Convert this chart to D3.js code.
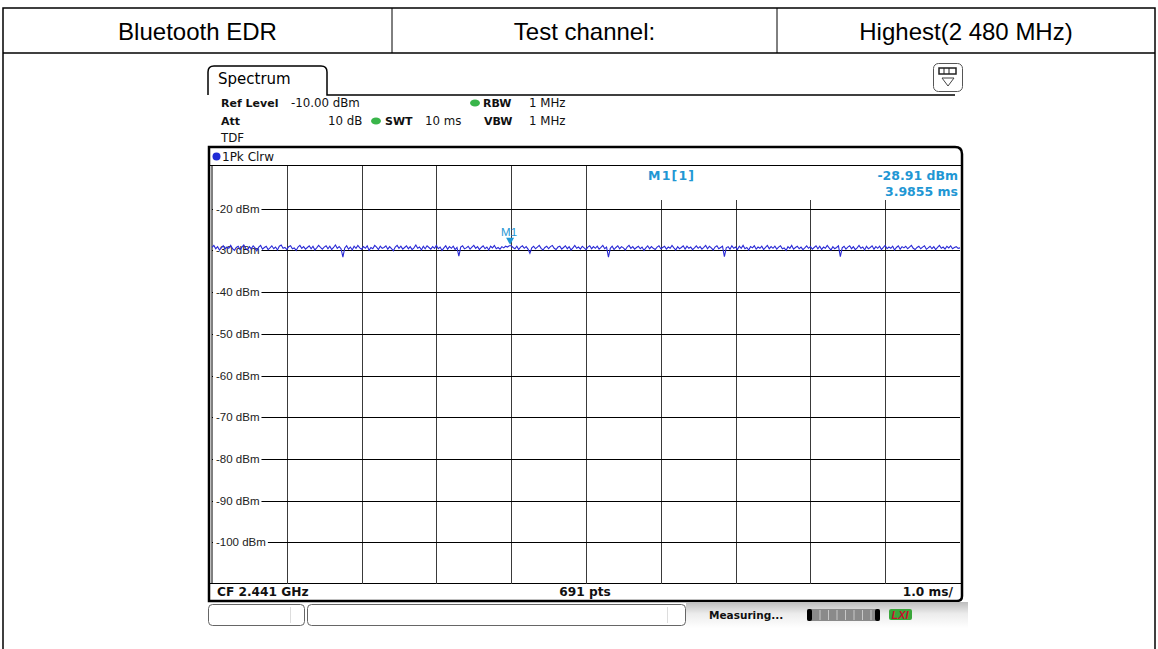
<!DOCTYPE html>
<html>
<head>
<meta charset="utf-8">
<script src="https://cdn.jsdelivr.net/npm/d3@7"></script>
<style>
  html, body { margin: 0; padding: 0; background: #fff; }
  svg { display: block; }
</style>
</head>
<body>
<svg id="chart" width="1158" height="649"></svg>
<script>
// Header row of the report table
const headerCells = ["Bluetooth EDR", "Test channel:", "Highest(2 480 MHz)"];

// Instrument settings
const refLevel = "-10.00 dBm";
const attenuation = "10 dB";
const sweepTime = "10 ms";
const rbw = "1 MHz";
const vbw = "1 MHz";
const traceLabel = "1Pk Clrw";
const centerFreq = "CF 2.441 GHz";
const pointsLabel = "691 pts";
const timePerDiv = "1.0 ms/";

// Axis ticks
const yTicks = [-20, -30, -40, -50, -60, -70, -80, -90, -100];
const xDivisions = [0, 1, 2, 3, 4, 5, 6, 7, 8, 9, 10];

// Marker M1
const markerTime = 3.9855;   // ms
const markerLevel = -28.91;  // dBm

// Trace level (dBm), one sample every 0.025 ms from 0 to 10 ms
const traceLevels = [
  -29.3,-28.8,-29.6,-29.1,-29.9,-29.4,-28.9,-29.7,-29.2,-29.5,-28.8,-29.6,-30.0,-29.3,-29.0,-29.8,-29.2,-28.7,-29.5,-29.9,
  -29.1,-29.6,-28.9,-29.4,-30.1,-29.2,-28.8,-29.7,-29.3,-29.0,-29.8,-29.4,-28.9,-29.6,-29.2,-29.9,-29.0,-28.7,-29.5,-29.3,
  -29.8,-29.1,-28.9,-29.6,-29.4,-30.0,-29.2,-28.8,-29.5,-29.1,-29.7,-29.3,-28.9,-29.6,-29.0,-29.9,-29.4,-28.8,-29.3,-29.7,
  -29.2,-28.9,-29.6,-29.0,-29.8,-29.3,-28.7,-29.5,-29.1,-29.6,-31.6,-29.4,-28.9,-29.7,-29.2,-29.9,-29.0,-29.5,-28.8,-29.4,
  -29.7,-29.1,-29.5,-28.9,-30.0,-29.3,-29.6,-28.8,-29.2,-29.8,-29.0,-29.5,-29.3,-28.9,-29.7,-29.1,-29.6,-30.1,-29.2,-28.8,
  -29.5,-29.0,-29.7,-29.3,-28.9,-29.6,-29.1,-29.8,-29.4,-28.7,-29.5,-29.2,-29.9,-29.0,-29.6,-28.9,-29.3,-29.7,-29.1,-29.5,
  -28.8,-29.6,-29.2,-30.0,-29.4,-28.9,-29.7,-29.1,-29.5,-29.0,-29.8,-29.3,-31.4,-29.2,-28.9,-29.6,-29.4,-29.0,-29.7,-29.2,
  -28.8,-29.5,-29.1,-29.8,-29.3,-28.9,-29.6,-29.2,-29.9,-29.0,-29.4,-28.8,-29.6,-29.3,-29.7,-29.1,-29.4,-29.0,-29.2,-28.9,
  -28.9,-29.3,-29.6,-29.0,-29.8,-29.2,-28.9,-29.5,-29.1,-29.7,-30.7,-29.4,-29.0,-29.6,-29.2,-28.8,-29.5,-29.9,-29.3,-29.0,
  -29.6,-29.1,-28.8,-29.5,-29.8,-29.2,-29.0,-29.7,-29.3,-28.9,-29.6,-29.1,-29.9,-29.4,-28.8,-29.5,-29.2,-29.7,-29.0,-29.4,
  -29.8,-29.2,-28.9,-29.6,-29.1,-29.5,-29.0,-29.7,-29.3,-28.8,-29.6,-29.2,-31.6,-29.5,-29.0,-29.8,-29.3,-28.9,-29.6,-29.1,
  -29.4,-29.9,-29.2,-28.8,-29.5,-29.1,-29.7,-29.3,-29.0,-29.6,-29.2,-30.0,-29.4,-28.9,-29.6,-29.1,-29.5,-29.8,-29.2,-28.9,
  -29.6,-29.3,-29.0,-29.7,-29.2,-29.5,-28.8,-29.4,-29.9,-29.1,-29.6,-29.3,-28.9,-29.7,-29.0,-29.5,-29.2,-29.8,-29.4,-28.9,
  -29.5,-29.1,-29.7,-29.3,-28.8,-29.6,-29.0,-29.4,-29.9,-29.2,-28.9,-29.6,-29.3,-29.0,-31.5,-29.4,-29.1,-29.7,-28.9,-29.5,
  -29.2,-29.8,-29.0,-29.5,-28.8,-29.6,-29.3,-29.9,-29.1,-29.4,-28.9,-29.7,-29.2,-29.5,-29.0,-29.8,-29.3,-28.8,-29.6,-29.1,
  -29.5,-29.0,-29.7,-29.2,-28.9,-29.6,-29.4,-30.0,-29.1,-29.5,-28.8,-29.7,-29.3,-29.0,-29.6,-29.2,-29.8,-29.4,-28.9,-29.5,
  -29.1,-29.7,-29.3,-28.9,-29.6,-29.0,-29.8,-29.2,-29.5,-28.8,-29.4,-29.9,-29.1,-29.6,-29.3,-28.9,-31.5,-29.4,-29.0,-29.7,
  -29.2,-28.9,-29.6,-29.1,-29.8,-29.4,-28.8,-29.5,-29.2,-29.9,-29.0,-29.6,-29.3,-28.9,-29.7,-29.1,-29.5,-29.0,-29.8,-29.3,
  -28.8,-29.6,-29.2,-29.5,-29.0,-29.9,-29.3,-28.9,-29.7,-29.1,-29.4,-29.0,-29.6,-29.2,-28.8,-29.5,-29.8,-29.3,-29.0,-29.6,
  -29.2,-28.9,-29.7,-29.4,-29.0,-29.6,-29.1,-29.8,-29.3,-28.8,-29.5,-29.2,-29.7,-29.0,-29.4,-28.9,-29.6,-29.3,-29.1,-29.5,
  -29.4
];
const sampleStep = 0.025; // ms

const svg = d3.select("#chart");
const uiFont = "'DejaVu Sans', Verdana, sans-serif";
const tableFont = "'Liberation Sans', Arial, sans-serif";

// ---------- report table ----------
const tableLeft = 3, tableRight = 1155, tableTop = 8, headerBottom = 53;
const colEdges = [tableLeft, 392, 777, tableRight];
svg.append("rect")
  .attr("x", tableLeft).attr("y", tableTop)
  .attr("width", tableRight - tableLeft).attr("height", 660)
  .attr("fill", "none").attr("stroke", "#000").attr("stroke-width", 1.5);
svg.append("line")
  .attr("x1", tableLeft).attr("x2", tableRight)
  .attr("y1", headerBottom).attr("y2", headerBottom)
  .attr("stroke", "#000").attr("stroke-width", 1.5);
[392, 777].forEach(x => svg.append("line")
  .attr("x1", x).attr("x2", x).attr("y1", tableTop).attr("y2", headerBottom)
  .attr("stroke", "#000").attr("stroke-width", 1));
svg.selectAll("text.hdr").data(headerCells).join("text")
  .attr("class", "hdr")
  .attr("x", (d, i) => (colEdges[i] + colEdges[i + 1]) / 2)
  .attr("y", 40)
  .attr("text-anchor", "middle")
  .attr("font-family", tableFont)
  .attr("font-size", 24)
  .attr("fill", "#000")
  .text(d => d);

// ---------- instrument window ----------
const scr = svg.append("g");

// Tab "Spectrum"
scr.append("path")
  .attr("d", "M208,95 L208,72 Q208,66 214,66 L321,66 Q327,66 327,72 L327,95 L955,95")
  .attr("fill", "none").attr("stroke", "#000").attr("stroke-width", 1.5);
scr.append("text").attr("x", 218).attr("y", 84)
  .attr("font-family", uiFont).attr("font-size", 15).text("Spectrum");

// Window-list icon
scr.append("rect").attr("x", 933.5).attr("y", 63.5).attr("width", 29).attr("height", 28).attr("rx", 5)
  .attr("fill", "#fff").attr("stroke", "#555").attr("stroke-width", 1);
scr.append("rect").attr("x", 939).attr("y", 68).attr("width", 17).attr("height", 6)
  .attr("fill", "#fff").attr("stroke", "#222").attr("stroke-width", 1.5);
[944, 949].forEach(x => scr.append("line").attr("x1", x).attr("x2", x).attr("y1", 68).attr("y2", 74)
  .attr("stroke", "#222").attr("stroke-width", 1));
scr.append("path").attr("d", "M942,78 L954,78 L948,86 Z")
  .attr("fill", "#fff").attr("stroke", "#444").attr("stroke-width", 1);

// Settings lines
function settingText(x, y, txt, bold) {
  scr.append("text").attr("x", x).attr("y", y)
    .attr("font-family", uiFont).attr("font-size", bold ? 11 : 11.8)
    .attr("font-weight", bold ? "bold" : "normal")
    .attr("fill", "#111").text(txt);
}
function greenDot(cx, cy) {
  scr.append("ellipse").attr("cx", cx).attr("cy", cy).attr("rx", 5).attr("ry", 3.5)
    .attr("fill", "#39b54a");
}
settingText(221, 107, "Ref Level", true);
settingText(291, 107, refLevel, false);
greenDot(475, 103);
settingText(483, 107, "RBW", true);
settingText(529, 107, rbw, false);
settingText(221, 125, "Att", true);
settingText(328, 125, attenuation, false);
greenDot(376, 121);
settingText(385, 125, "SWT", true);
settingText(425, 125, sweepTime, false);
settingText(484, 125, "VBW", true);
settingText(529, 125, vbw, false);
settingText(221, 142, "TDF", false);

// Diagram frame
const plot = { left: 212, right: 960, top: 167, bottom: 584 };
const x = d3.scaleLinear().domain([0, 10]).range([plot.left, plot.right]);
const y = d3.scaleLinear().domain([-10, -110]).range([plot.top, plot.bottom]);

scr.append("path")
  .attr("d", `M209,601 L209,147 L955,147 Q962,147 962,154 L962,596 Q962,601 957,601 Z`)
  .attr("fill", "#fff").attr("stroke", "#000").attr("stroke-width", 2.5);
scr.append("line").attr("x1", 212).attr("x2", 212).attr("y1", 165).attr("y2", 584)
  .attr("stroke", "#000").attr("stroke-width", 1);
scr.append("line").attr("x1", 209).attr("x2", 962).attr("y1", 165.5).attr("y2", 165.5)
  .attr("stroke", "#000").attr("stroke-width", 1);
scr.append("line").attr("x1", 209).attr("x2", 962).attr("y1", 583.5).attr("y2", 583.5)
  .attr("stroke", "#000").attr("stroke-width", 1);

// Trace indicator
scr.append("circle").attr("cx", 216.5).attr("cy", 156.5).attr("r", 4).attr("fill", "#1f2bd6");
scr.append("text").attr("x", 222).attr("y", 161)
  .attr("font-family", uiFont).attr("font-size", 12).attr("fill", "#111").text(traceLabel);

// Grid
const grid = scr.append("g");
grid.selectAll("line.v").data(xDivisions.slice(1, -1)).join("line")
  .attr("class", "v")
  .attr("x1", d => Math.round(x(d)) + 0.5).attr("x2", d => Math.round(x(d)) + 0.5)
  .attr("y1", plot.top - 1).attr("y2", plot.bottom)
  .attr("stroke", "#3a3a3a").attr("stroke-width", 1);
grid.selectAll("line.h").data(yTicks).join("line")
  .attr("class", "h")
  .attr("x1", plot.left).attr("x2", plot.right)
  .attr("y1", d => Math.round(y(d)) + 0.5).attr("y2", d => Math.round(y(d)) + 0.5)
  .attr("stroke", "#000").attr("stroke-width", 1);

// Level labels with a white backing that cuts the grid line
const yLabels = scr.append("g");
yTicks.forEach(t => {
  const txt = yLabels.append("text")
    .attr("x", 216).attr("y", Math.round(y(t)) + 4)
    .attr("font-family", tableFont).attr("font-size", 11.5)
    .attr("fill", "#222").text(`${t} dBm`);
  const bb = txt.node().getBBox();
  yLabels.insert("rect", "text")
    .attr("x", plot.left + 1).attr("y", Math.round(y(t)) - 6)
    .attr("width", bb.x + bb.width - plot.left + 1).attr("height", 12)
    .attr("fill", "#fff");
});

// Marker readout box
scr.append("rect").attr("x", Math.round(x(5)) + 1).attr("y", plot.top - 1)
  .attr("width", plot.right - Math.round(x(5)) - 1).attr("height", 34).attr("fill", "#fff");
const readColor = "#1f97d4";
scr.append("text").attr("x", 648).attr("y", 180)
  .attr("font-family", uiFont).attr("font-size", 12.5).attr("font-weight", "bold")
  .attr("letter-spacing", 1.2)
  .attr("fill", readColor).text("M1[1]");
scr.append("text").attr("x", 958).attr("y", 180).attr("text-anchor", "end")
  .attr("font-family", uiFont).attr("font-size", 12.5).attr("font-weight", "bold")
  .attr("fill", readColor).text(`${markerLevel.toFixed(2)} dBm`);
scr.append("text").attr("x", 958).attr("y", 196).attr("text-anchor", "end")
  .attr("font-family", uiFont).attr("font-size", 12.5).attr("font-weight", "bold")
  .attr("fill", readColor).text(`${markerTime.toFixed(4)} ms`);

// Trace
const traceData = traceLevels.map((v, i) => ({ t: i * sampleStep, v }));
scr.append("path")
  .datum(traceData)
  .attr("d", d3.line().x(d => x(d.t)).y(d => y(d.v)))
  .attr("fill", "none").attr("stroke", "#2a2ad6").attr("stroke-width", 1.1);

// Marker M1
const mx = x(markerTime), my = y(markerLevel);
scr.append("path")
  .attr("d", `M${mx - 4},${my - 8} L${mx + 4},${my - 8} L${mx},${my - 1} Z`)
  .attr("fill", readColor);
scr.append("text").attr("x", mx - 1).attr("y", my - 10).attr("text-anchor", "middle")
  .attr("font-family", tableFont).attr("font-size", 11.5).attr("fill", readColor).text("M1");

// Footer
function footText(xp, anchor, txt) {
  scr.append("text").attr("x", xp).attr("y", 596).attr("text-anchor", anchor)
    .attr("font-family", uiFont).attr("font-size", 12.2).attr("font-weight", "bold")
    .attr("fill", "#111").text(txt);
}
footText(217, "start", centerFreq);
footText(585, "middle", pointsLabel);
footText(953, "end", timePerDiv);

// Status bar
const grad = svg.append("defs").append("linearGradient")
  .attr("id", "statusShade").attr("x1", 0).attr("x2", 0).attr("y1", 0).attr("y2", 1);
grad.append("stop").attr("offset", "0%").attr("stop-color", "#bdbdbd");
grad.append("stop").attr("offset", "45%").attr("stop-color", "#ececec");
grad.append("stop").attr("offset", "100%").attr("stop-color", "#fff");
scr.append("rect").attr("x", 686).attr("y", 602).attr("width", 282).attr("height", 26)
  .attr("fill", "url(#statusShade)");
scr.append("rect").attr("x", 208.5).attr("y", 604.5).attr("width", 96).attr("height", 21).attr("rx", 4)
  .attr("fill", "#fff").attr("stroke", "#666");
scr.append("line").attr("x1", 290.5).attr("x2", 290.5).attr("y1", 607).attr("y2", 623).attr("stroke", "#ddd");
scr.append("rect").attr("x", 307.5).attr("y", 604.5).attr("width", 378).attr("height", 21).attr("rx", 4)
  .attr("fill", "#fff").attr("stroke", "#666");
scr.append("line").attr("x1", 667.5).attr("x2", 667.5).attr("y1", 607).attr("y2", 623).attr("stroke", "#ddd");
scr.append("text").attr("x", 709).attr("y", 619)
  .attr("font-family", uiFont).attr("font-size", 10.5).attr("font-weight", "bold")
  .attr("fill", "#111").text("Measuring...");
// Progress indicator
scr.append("rect").attr("x", 807).attr("y", 609).attr("width", 73).attr("height", 12).attr("rx", 2)
  .attr("fill", "#8a8a8a");
scr.append("rect").attr("x", 807).attr("y", 609).attr("width", 5).attr("height", 12).attr("rx", 2).attr("fill", "#000");
scr.append("rect").attr("x", 875).attr("y", 609).attr("width", 5).attr("height", 12).attr("rx", 2).attr("fill", "#000");
d3.range(7).forEach(i => scr.append("line")
  .attr("x1", 820 + i * 8.5).attr("x2", 820 + i * 8.5).attr("y1", 610).attr("y2", 620)
  .attr("stroke", "#c8c8c8").attr("stroke-width", 1));
// LXI badge
scr.append("rect").attr("x", 889).attr("y", 609).attr("width", 23).attr("height", 11).attr("rx", 2)
  .attr("fill", "#3aa63a");
scr.append("text").attr("x", 900).attr("y", 619).attr("text-anchor", "middle")
  .attr("font-family", tableFont).attr("font-size", 11).attr("font-weight", "bold")
  .attr("font-style", "italic").attr("fill", "#c8102e").text("LXI");
</script>
</body>
</html>
